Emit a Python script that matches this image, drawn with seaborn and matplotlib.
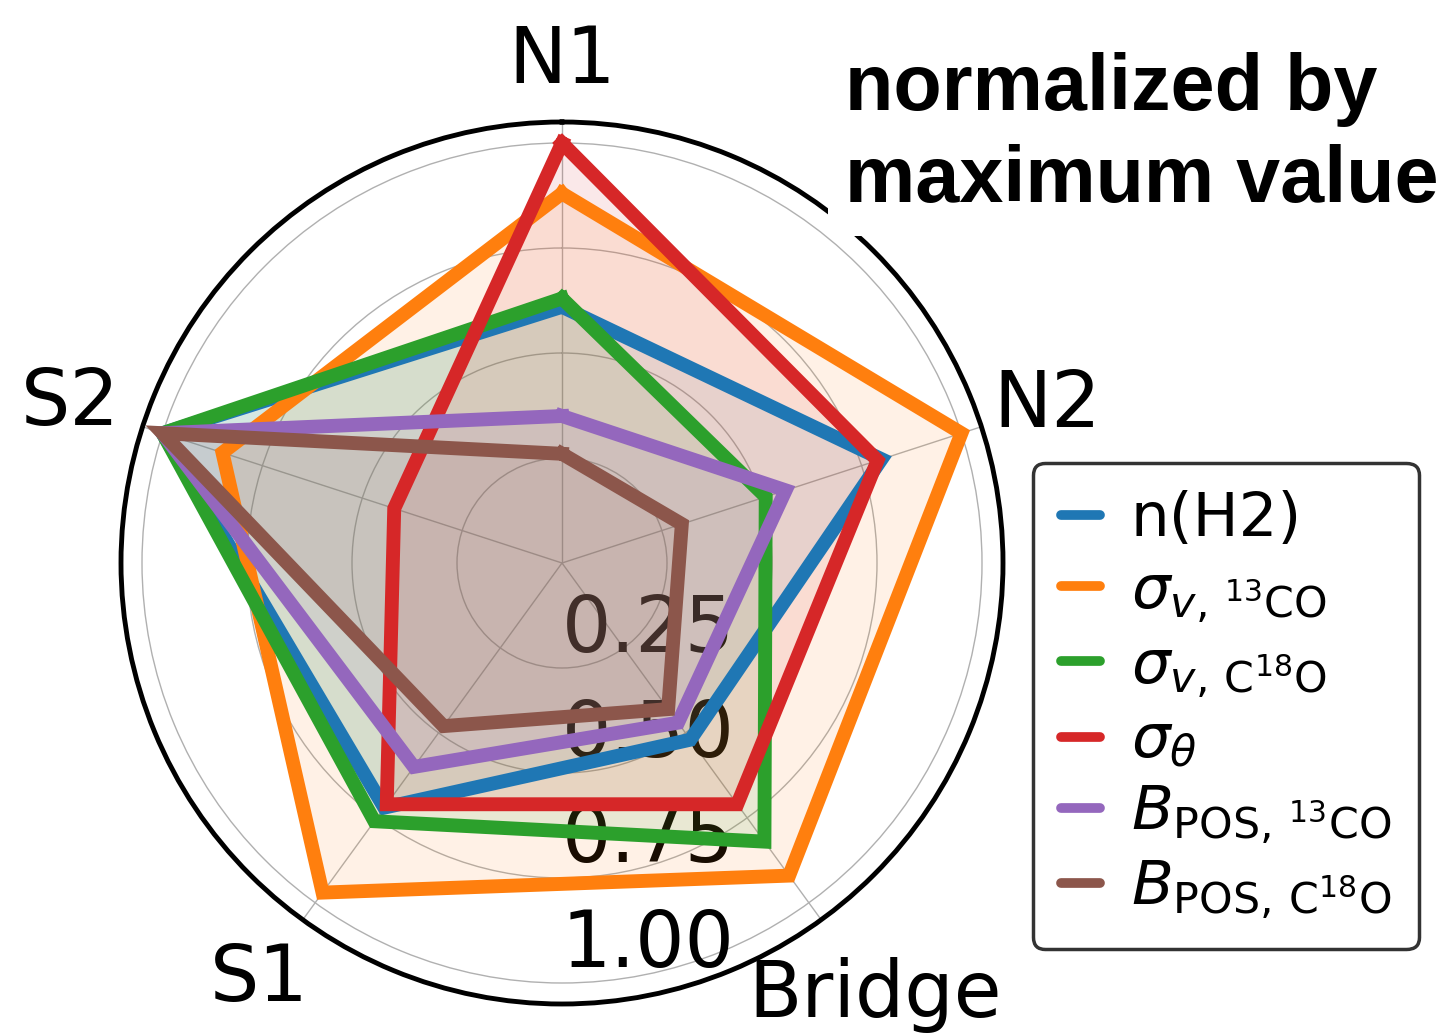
import numpy as np
import pandas as pd
import matplotlib
matplotlib.use("Agg")
import matplotlib.pyplot as plt
from matplotlib.lines import Line2D
import seaborn as sns

# Regions along the filament, clockwise from the top
categories = ["N1", "N2", "Bridge", "S1", "S2"]

# Each quantity normalized by its own maximum
n_h2 = [0.61, 0.80, 0.52, 0.72, 1.00]
sigma_v_13co = [0.88, 1.00, 0.92, 0.97, 0.85]
sigma_v_c18o = [0.63, 0.51, 0.82, 0.76, 1.00]
sigma_theta = [1.00, 0.79, 0.71, 0.71, 0.42]
b_pos_13co = [0.35, 0.56, 0.47, 0.60, 1.00]
b_pos_c18o = [0.26, 0.30, 0.43, 0.48, 1.00]

series_labels = [
    "n(H2)",
    r"$\sigma_{v,\,{}^{13}\mathrm{CO}}$",
    r"$\sigma_{v,\,\mathrm{C}^{18}\mathrm{O}}$",
    r"$\sigma_{\theta}$",
    r"$B_{\mathrm{POS},\,{}^{13}\mathrm{CO}}$",
    r"$B_{\mathrm{POS},\,\mathrm{C}^{18}\mathrm{O}}$",
]
series_values = [n_h2, sigma_v_13co, sigma_v_c18o, sigma_theta, b_pos_13co, b_pos_c18o]

r_ticks = [0.25, 0.50, 0.75, 1.00]
r_tick_labels = ["0.25", "0.50", "0.75", "1.00"]

sns.set_style("white")
plt.rcParams["font.family"] = ["DejaVu Sans"]
plt.rcParams["mathtext.fontset"] = "dejavusans"
plt.rcParams["text.color"] = "black"
plt.rcParams["xtick.color"] = "black"
plt.rcParams["ytick.color"] = "black"

palette = sns.color_palette("tab10", 6)

fig = plt.figure(figsize=(14.45, 10.35), dpi=100)
cx, cy, rad = 562, 563, 441
W, H = 1445, 1035
ax = fig.add_axes([(cx - rad) / W, (H - cy - rad) / H, 2 * rad / W, 2 * rad / H],
                  projection="polar")
ax.set_theta_offset(np.pi / 2)
ax.set_theta_direction(-1)

angles = np.linspace(0, 2 * np.pi, len(categories), endpoint=False)
closed_angles = np.concatenate([angles, angles[:1]])

for vals, lab, col in zip(series_values, series_labels, palette):
    closed_vals = list(vals) + [vals[0]]
    df = pd.DataFrame({"theta": closed_angles, "r": closed_vals})
    sns.lineplot(data=df, x="theta", y="r", ax=ax, sort=False, estimator=None,
                 color=col, linewidth=10, solid_joinstyle="miter",
                 solid_capstyle="projecting", legend=False)
    ax.fill(closed_angles, closed_vals, color=col, alpha=0.1, linewidth=0)

ax.set_ylim(0, 1.05)
ax.set_xticks(angles)
ax.set_xticklabels([])
# category names placed just outside the rim
label_radius = [1.195, 1.215, 1.27, 1.225, 1.23]
for ang, name, rr in zip(angles, categories, label_radius):
    ax.text(ang, rr, name, fontsize=56, ha="center", va="center",
            color="black", clip_on=False)

ax.set_yticks(r_ticks)
ax.set_yticklabels(r_tick_labels, fontsize=56, color="black")
ax.set_rlabel_position(180)
ax.set_xlabel("")
ax.set_ylabel("")
ax.grid(True, color="#b0b0b0", linewidth=1.0)
ax.spines["polar"].set_linewidth(3.5)
ax.spines["polar"].set_color("black")

handles = [Line2D([0], [0], color=c, linewidth=7) for c in palette]
leg = fig.legend(handles, series_labels, loc="upper left",
                 bbox_to_anchor=(1033 / W, 1 - 463 / H), borderaxespad=0,
                 fontsize=44, handlelength=0.65, handletextpad=0.5,
                 labelspacing=0.2, borderpad=0.45, frameon=True, fancybox=True,
                 framealpha=1, edgecolor="#333333")
leg.get_frame().set_linewidth(2.5)
for t in leg.get_texts():
    t.set_color("black")

fig.text(845 / W, 1 - 52 / H, "normalized by\nmaximum value", ha="left", va="top",
         fontsize=57, fontweight="bold", family="Liberation Sans", linespacing=1.3,
         color="black",
         bbox=dict(facecolor="white", edgecolor="none", pad=12))

fig.savefig("out.png", dpi=100, facecolor="white")
